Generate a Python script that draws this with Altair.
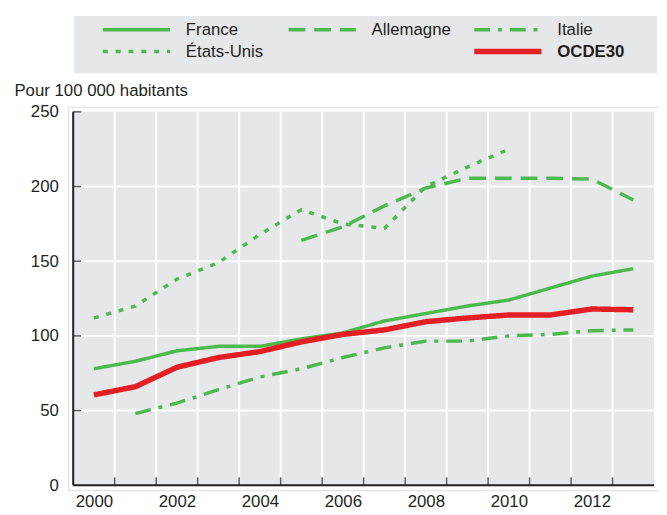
import altair as alt
import pandas as pd

# ---- data ----
years = list(range(2000, 2014))
france = [78, 83, 90, 93, 93, 98, 102, 110, 115, 120, 124, 132, 140, 145]
allemagne = [None, None, None, None, None, 164, 173, 187, 199, 205.5, 205.5, 205.5, 205, 191]
italie = [None, 48, 55, 64, 72.5, 78, 85.5, 92, 96.5, 96.5, 100, 101, 103.5, 104]
etats_unis = [112, 120, 138, 149, 168, 184.5, 175, 172, 200, 213, 225, None, None, None]
ocde30 = [60.5, 66, 79, 85.5, 89.5, 96, 101, 104, 109.5, 112, 114, 114, 118, 117.5]

series_names = ["France", "Allemagne", "Italie", "États-Unis", "OCDE30"]
series_values = [france, allemagne, italie, etats_unis, ocde30]

y_ticks = [0, 50, 100, 150, 200, 250]
legend_slots = ["France", "Allemagne", "Italie", "États-Unis", None, "OCDE30"]

# ---- styles ----
GREEN = "#4cb94f"
RED = "#e31e24"
BG = "#e6e7e8"
INK = "#231f20"
TICK = "#58595b"
FONT = "Liberation Sans"
FS = 17
PAD = 5
series_colors = [GREEN, GREEN, GREEN, GREEN, RED]
series_dashes = [[1, 0], [17, 9], [16, 8, 4, 8], [5, 8], [1, 0]]

rows = []
for name, vals in zip(series_names, series_values):
    for yr, v in zip(years, vals):
        if v is not None:
            rows.append({"année": yr, "série": name, "valeur": v})
df = pd.DataFrame(rows)

xmin, xmax = years[0] - 0.5, years[-1] + 0.5
ymin, ymax = y_ticks[0], y_ticks[-1]

boundaries = [y + 0.5 for y in years[:-1]]
bounds_df = pd.DataFrame({"b": boundaries})
hgrid_df = pd.DataFrame({"g": [t for t in y_ticks if ymin < t < ymax]})
tick_y = pd.DataFrame({"t": [t for t in y_ticks if t > ymin]})
edge_x = pd.DataFrame({"e": [xmin]})
edge_y = pd.DataFrame({"z": [ymin]})

leg_rows = []
for k, name in enumerate(legend_slots):
    if name is not None:
        leg_rows.append({"série": name, "col": k % 3, "row": k // 3})
legend_df = pd.DataFrame(leg_rows)

xscale = alt.Scale(domain=[xmin, xmax], nice=False, zero=False, padding=PAD)
yscale = alt.Scale(domain=[ymin, ymax], nice=False, zero=True, padding=PAD)
xaxis = alt.Axis(values=boundaries, grid=False, domain=False,
                 ticks=False, labelExpr="((datum.value - 0.5) % 2 == 0) ? format(datum.value - 0.5, 'd') : ''",
                 labelOffset=-21, labelOverlap=False, labelPadding=4, labelFlush=False,
                 title=None, labelFontSize=FS,
                 labelColor=INK, labelFont=FONT, zindex=1)
yaxis = alt.Axis(values=y_ticks, grid=False, domain=False,
                 ticks=False, labelPadding=10,
                 labelFontSize=FS, labelColor=INK,
                 labelFont=FONT, title="Pour 100 000 habitants", titleAngle=0,
                 titleAlign="left", titleBaseline="middle", titleX=-55, titleY=-17,
                 titleFontWeight="normal", titleFontSize=FS, titleColor=INK,
                 titleFont=FONT, zindex=1)

color_enc = alt.Color("série:N", scale=alt.Scale(domain=series_names, range=series_colors), legend=None)
dash_enc = alt.StrokeDash("série:N", scale=alt.Scale(domain=series_names, range=series_dashes), legend=None)

# plot background
bg = alt.Chart(alt.InlineData(values=[{"bg": 1}])).mark_rect(color=BG).encode(
    x=alt.XDatum(xmin, scale=xscale, axis=xaxis), x2=alt.X2Datum(xmax),
    y=alt.YDatum(ymin, scale=yscale, axis=yaxis), y2=alt.Y2Datum(ymax))

# grid lines, axis lines and inward ticks (thin bars)
def vbars(data, field, lo, hi, color, width):
    return alt.Chart(data).mark_bar(color=color, size=width, orient="vertical").encode(
        x=alt.X(f"{field}:Q", scale=xscale, axis=xaxis),
        y=alt.YDatum(lo), y2=alt.Y2Datum(hi))

def hbars(data, field, lo, hi, color, width):
    return alt.Chart(data).mark_bar(color=color, size=width, orient="horizontal").encode(
        y=alt.Y(f"{field}:Q", scale=yscale, axis=yaxis),
        x=alt.XDatum(lo), x2=alt.X2Datum(hi))

vgrid = vbars(bounds_df, "b", ymin, ymax, "white", 2)
hgrid = hbars(hgrid_df, "g", xmin, xmax, "white", 2)
xticks = vbars(bounds_df, "b", ymin, ymin + 5.3, TICK, 1.5)
yticks = hbars(tick_y, "t", xmin, xmin + 0.19, TICK, 1.5)
yline = vbars(edge_x, "e", ymin, ymax, INK, 2)
xline = hbars(edge_y, "z", xmin, xmax, INK, 2)

base = alt.Chart(df).encode(
    x=alt.X("année:Q", scale=xscale, axis=xaxis),
    y=alt.Y("valeur:Q", scale=yscale, axis=yaxis),
    color=color_enc, strokeDash=dash_enc, detail="série:N")
green_lines = base.mark_line(strokeWidth=3.5).transform_filter(alt.datum["série"] != "OCDE30")
red_line = base.mark_line(strokeWidth=5.5).transform_filter(alt.datum["série"] == "OCDE30")

main = alt.layer(bg, vgrid, hgrid, xticks, yticks, yline, xline, green_lines, red_line)

# ---- legend (drawn above the plot, own scales) ----
lx = alt.X("col:Q", scale=alt.Scale(domain=[0, 2], range=[69, 445], nice=False, zero=False), axis=None)
ly = alt.Y("row:Q", scale=alt.Scale(domain=[0, 1], range=[-78, -56], nice=False, zero=False), axis=None)
box = alt.Chart(alt.InlineData(values=[{"box": 1}])).mark_rect(color=BG).encode(
    x=alt.value(6), x2=alt.value(596), y=alt.value(-92), y2=alt.value(-34))
leg_base = alt.Chart(legend_df).encode(x=lx, y=ly)
leg_green = leg_base.mark_point(shape="M-1,0L1,0", size=68 * 68, filled=False, opacity=1,
                                strokeWidth=3.5).encode(
    color=color_enc, strokeDash=dash_enc).transform_filter(alt.datum["série"] != "OCDE30")
leg_red = leg_base.mark_point(shape="M-1,0L1,0", size=68 * 68, filled=False, opacity=1,
                              strokeWidth=5.5).encode(
    color=color_enc, strokeDash=dash_enc).transform_filter(alt.datum["série"] == "OCDE30")
leg_text = leg_base.mark_text(align="left", baseline="middle", dx=50, fontSize=FS,
                              font=FONT, color=INK).encode(
    text="série:N").transform_filter(alt.datum["série"] != "OCDE30")
leg_text_b = leg_base.mark_text(align="left", baseline="middle", dx=50, fontSize=FS,
                                font=FONT, color=INK, fontWeight="bold").encode(
    text="série:N").transform_filter(alt.datum["série"] == "OCDE30")
legend = alt.layer(box, leg_green, leg_red, leg_text, leg_text_b)

chart = alt.layer(main, legend).resolve_scale(x="independent", y="independent").properties(
    width=588 + 2 * PAD, height=378 + 2 * PAD,
    padding={"left": 6, "top": 5, "right": 0, "bottom": 2},
).configure_view(stroke=None).configure(font=FONT)

chart.save("out.html", embed_options={"renderer": "svg", "actions": False})
